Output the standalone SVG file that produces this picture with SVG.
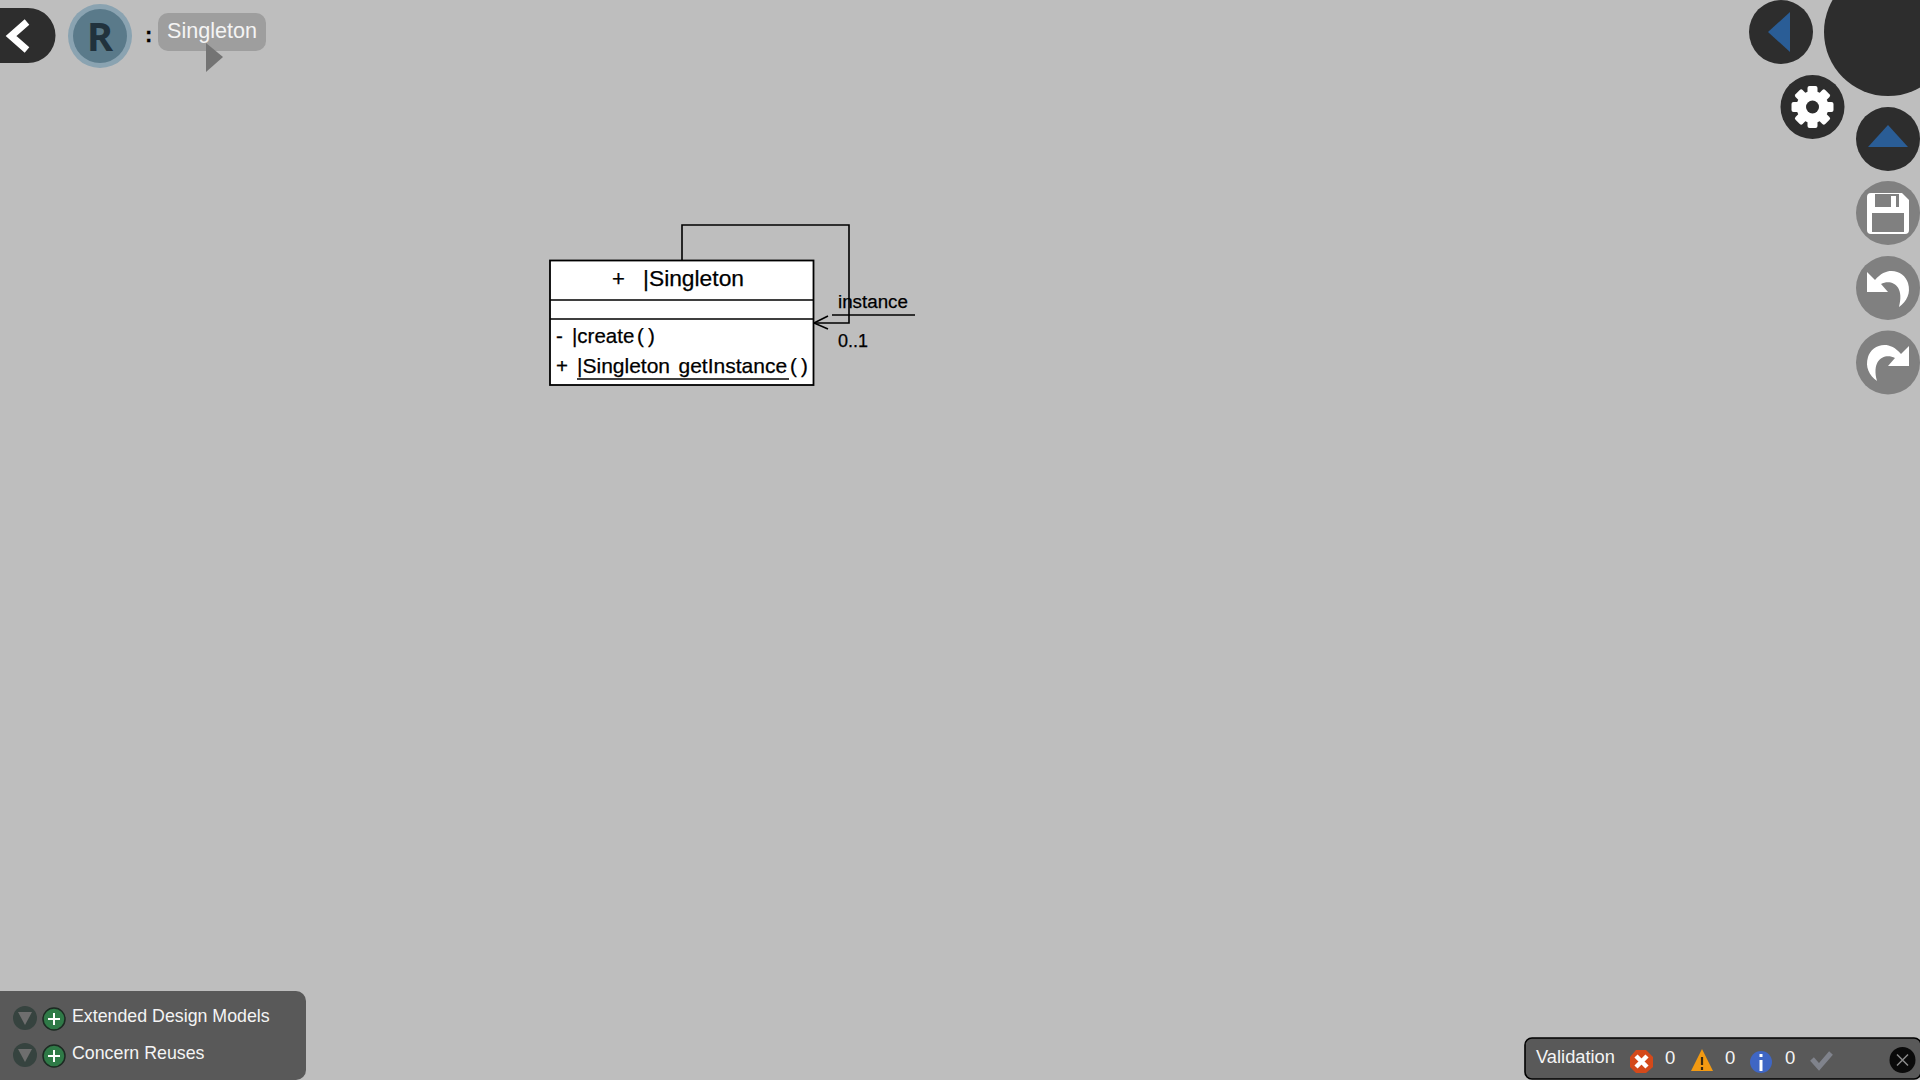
<svg xmlns="http://www.w3.org/2000/svg" width="1920" height="1080" viewBox="0 0 1920 1080">
<style>
text{font-family:"Liberation Sans",Arial,sans-serif}
.d{fill:#2d2d2d}.g{fill:#808080}.w{fill:#fff}.b{fill:#2a5d96}
.u{fill:#000;stroke:#000;stroke-width:.25}.l{fill:#f4f4f4}
.line{fill:none;stroke:#000;stroke-width:1.6}
.box{fill:#fff;stroke:#000;stroke-width:1.8}
.tr{fill:#36433f}.pl{fill:#2f7a47;stroke:#1c2a22;stroke-width:1.5}
</style>
<rect width="1920" height="1080" fill="#bebebe"/>
<g id="back"><path class="d" d="M0 8H28a27.500 27.500 0 0 1 0 55H0Z"/><path d="M27 22L11 36L27 50" fill="none" stroke="#fff" stroke-width="7"/></g>
<g id="reuse-badge"><circle cx="100" cy="36" r="32" fill="#8aa3b1"/><circle cx="100" cy="36" r="27" fill="#5a7a8a"/><text x="100" y="51" text-anchor="middle" font-size="40" font-weight="700" fill="#21323d" style="font-family:'Open Sans',sans-serif">R</text></g>
<text x="145" y="42" font-size="22" font-weight="700" class="u">:</text>
<g id="breadcrumb"><rect x="158" y="13" width="108" height="38" rx="10" fill="#9e9e9e"/><path d="M206 43L223 57L206 72Z" fill="#747474"/><text x="167" y="38" font-size="21.600" class="l">Singleton</text></g>

<g id="connectors">
<path class="line" d="M682 260V225H849V323H814"/>
<path class="line" d="M828 316L814 323L828 329"/>
<path class="line" d="M832 315H915"/>
</g>
<g id="class-singleton">
<rect class="box" x="550" y="260.500" width="263.500" height="124.500"/>
<path class="line" d="M550 300H814M550 319H814"/>
<text x="612" y="286" font-size="22" class="u">+</text>
<text x="643" y="286" font-size="22.800" class="u">|Singleton</text>
<text x="556" y="343" font-size="20.500" class="u">-</text>
<text x="572" y="343" font-size="20.500" class="u">|create</text>
<text x="637" y="343" font-size="20.500" class="u" letter-spacing="-0.800">( )</text>
<text x="556" y="373" font-size="20.500" class="u">+</text>
<text x="577" y="373" font-size="21" class="u">|Singleton</text>
<text x="678.500" y="373" font-size="21" class="u">getInstance</text>
<text x="790" y="373" font-size="20.500" class="u" letter-spacing="-0.800">( )</text>
<path class="line" d="M577 379H789"/>
</g>
<text x="838" y="308" font-size="18.800" class="u">instance</text>
<text x="838" y="347" font-size="18" class="u">0..1</text>

<g id="toolbar">
<circle class="d" cx="1781" cy="32" r="32"/><path class="b" d="M1768 32L1790 12V52Z"/>
<circle class="d" cx="1888" cy="32" r="64"/>
<g id="settings"><circle class="d" cx="1812.500" cy="107" r="32"/>
<g class="w"><circle cx="1812.500" cy="107" r="16"/>
<rect x="1807.500" y="86" width="10" height="42" rx="2"/>
<rect x="1807.500" y="86" width="10" height="42" rx="2" transform="rotate(45 1812.500 107)"/>
<rect x="1807.500" y="86" width="10" height="42" rx="2" transform="rotate(90 1812.500 107)"/>
<rect x="1807.500" y="86" width="10" height="42" rx="2" transform="rotate(135 1812.500 107)"/></g>
<circle class="d" cx="1812.500" cy="107" r="6.500"/></g>
<circle class="d" cx="1888" cy="139" r="32"/><path class="b" d="M1888 125L1908 147H1868Z"/>
<g id="save"><circle class="g" cx="1888" cy="213" r="32"/><path class="w" d="M1871 193H1902L1909 200V230Q1909 234 1905 234H1871Q1867 234 1867 230V197Q1867 193 1871 193Z"/><path class="g" d="M1875 194H1899V207H1875ZM1872 213H1904V232H1872Z"/><rect class="w" x="1891" y="196" width="5" height="11"/></g>
<g id="undo"><circle class="g" cx="1888" cy="288" r="32"/><path class="w" d="M1867 272V292H1888L1881 284C1891 279 1905 285 1899 307C1907 301 1911 293 1908 283C1905 272 1888 264 1875 280Z"/></g>
<g id="redo"><circle class="g" cx="1888" cy="362.500" r="32"/><path class="w" d="M1909 346V366H1888L1895 358C1885 353 1871 359 1877 381C1869 375 1865 367 1868 357C1871 346 1888 338 1901 354Z"/></g>
</g>

<g id="models-panel">
<path fill="#595959" d="M0 991H296a10 10 0 0 1 10 10V1070a10 10 0 0 1 -10 10H0Z"/>
<g id="extended-design-models"><circle class="tr" cx="25" cy="1018" r="12"/><path fill="#6e6e6e" d="M18 1012H32L25 1025Z"/><circle class="pl" cx="54" cy="1019" r="11"/><path d="M54 1013V1025M48 1019H60" stroke="#fff" stroke-width="2"/><text x="72" y="1022" font-size="17.800" class="l">Extended Design Models</text></g>
<g id="concern-reuses"><circle class="tr" cx="25" cy="1055" r="12"/><path fill="#6e6e6e" d="M18 1049H32L25 1062Z"/><circle class="pl" cx="54" cy="1056" r="11"/><path d="M54 1050V1062M48 1056H60" stroke="#fff" stroke-width="2"/><text x="72" y="1059" font-size="17.800" class="l">Concern Reuses</text></g>
</g>

<g id="validation">
<rect x="1525" y="1038" width="396" height="41" rx="7" fill="#595959" stroke="#000" stroke-width="1.600"/>
<text x="1536" y="1063" font-size="18.300" class="l">Validation</text>
<path fill="#d4491a" d="M1636 1050H1646L1653 1057V1067L1646 1073H1636L1630 1067V1057Z"/><path d="M1636 1056L1647 1067M1647 1056L1636 1067" stroke="#fff" stroke-width="4.500"/>
<text x="1665" y="1064" font-size="18.500" class="l">0</text>
<path fill="#f39a12" d="M1702 1049L1713 1071H1691Z"/><path d="M1702 1057V1065M1702 1067V1070" stroke="#3a2a10" stroke-width="2.200"/>
<text x="1725" y="1064" font-size="18.500" class="l">0</text>
<circle cx="1761" cy="1062" r="11" fill="#3f66c4"/><path d="M1761 1060V1071M1761 1054V1057" stroke="#fff" stroke-width="3"/>
<text x="1785" y="1064" font-size="18.500" class="l">0</text>
<path d="M1812 1059L1819 1067L1831 1053" fill="none" stroke="#80838c" stroke-width="5"/>
<circle cx="1902.500" cy="1060" r="13" fill="#0a0a0a"/><path d="M1897 1054.500L1908 1065.500M1908 1054.500L1897 1065.500" stroke="#8a8a8a" stroke-width="1.500"/>
</g>
</svg>
